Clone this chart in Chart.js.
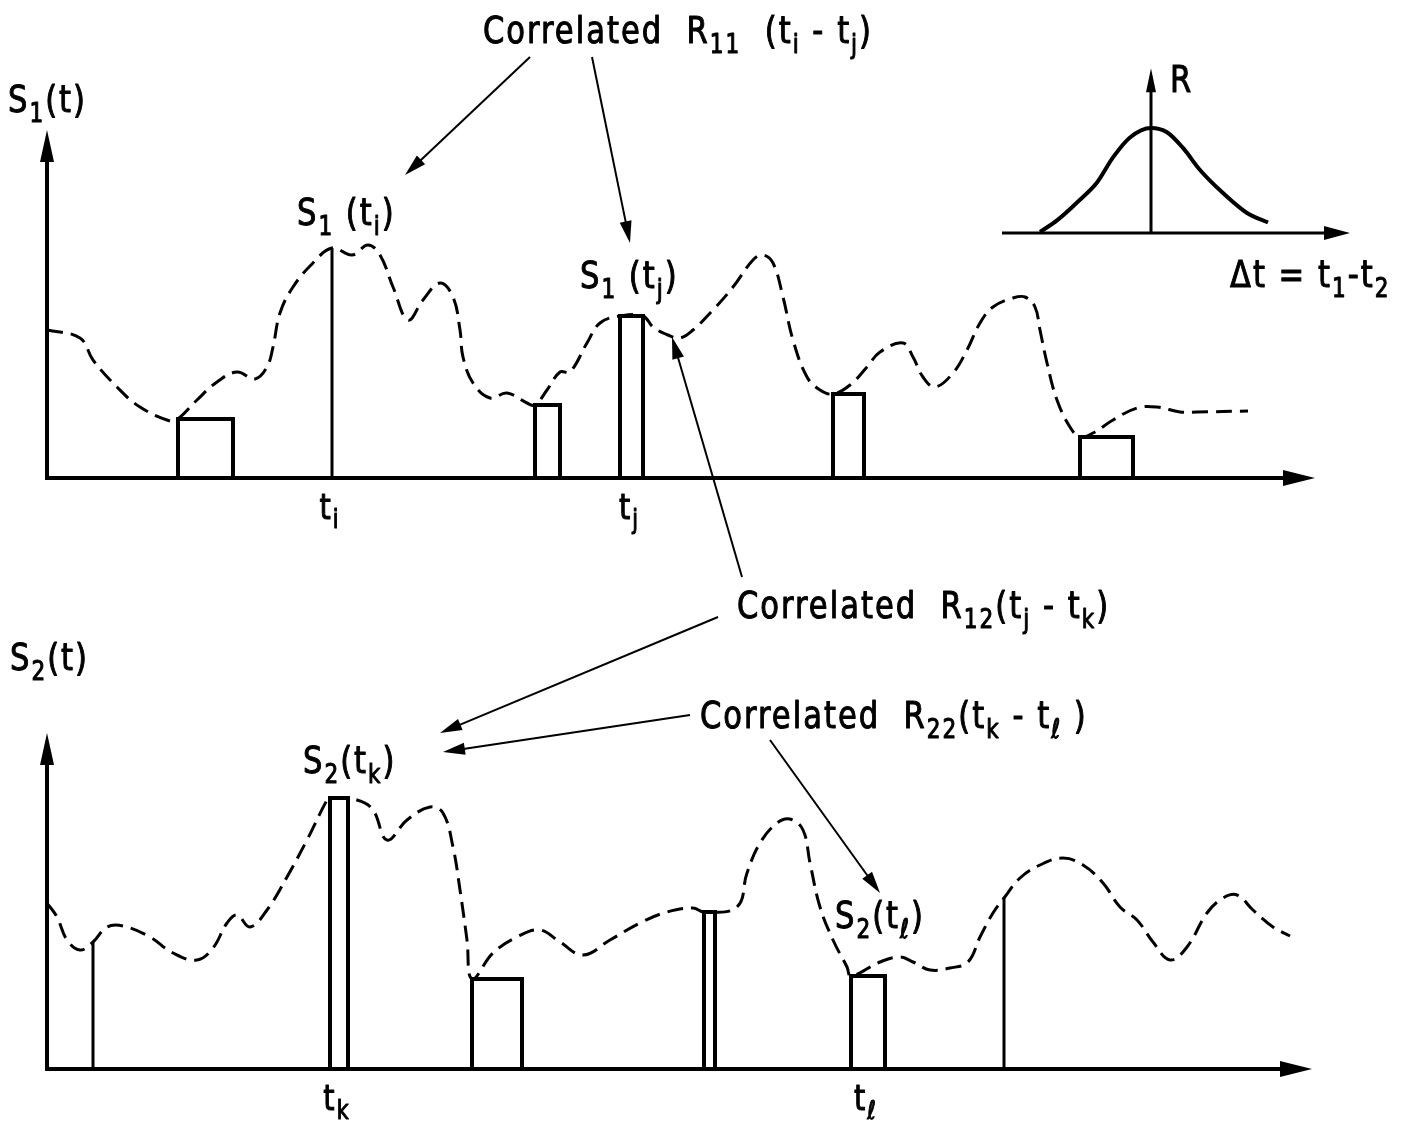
<!DOCTYPE html>
<html>
<head>
<meta charset="utf-8">
<script src="https://cdn.jsdelivr.net/npm/chart.js@4.4.1/dist/chart.umd.min.js"></script>
<style>
  html, body { margin: 0; padding: 0; background: #fff; }
  #sketch { display: block; }
</style>
</head>
<body>
<canvas id="sketch" width="1412" height="1122"></canvas>
<script>
// S1(t) trace (time units, amplitude units)
const s1Time = [0, 3.3, 4.6, 7.0, 9.3, 12.3, 13.1, 15.0, 17.0, 19.0, 20.8, 22.0, 22.6, 23.3, 24.6, 26.6, 28.5,
  30.5, 32.1, 33.3, 34.6, 36.1, 37.6, 39.3, 40.6, 41.3, 41.6, 42.6, 44.3, 46.0, 48.0, 48.8, 50.0, 51.3, 52.3,
  54.0, 55.3, 57.3, 59.6, 60.6, 62.1, 63.3, 64.6, 66.6, 68.6, 70.6, 71.6, 72.6, 73.6, 74.6, 76.0, 77.3, 78.6,
  80.3, 82.0, 83.3, 85.6, 86.6, 87.6, 88.8, 90.6, 92.0, 93.3, 94.6, 96.6, 97.8, 98.8, 99.3, 100.0, 101.0,
  102.3, 103.3, 104.6, 106.6, 109.0, 111.0, 113.3, 115.0, 120.1];
const s1Value = [14.8, 14.0, 11.8, 9.1, 7.1, 5.7, 5.9, 7.8, 9.6, 10.6, 9.9, 11.1, 13.1, 16.5, 19.1, 21.5, 23.0,
  22.3, 23.3, 22.3, 19.1, 15.8, 17.8, 19.5, 18.1, 14.8, 12.1, 9.5, 8.0, 8.5, 7.5, 7.3, 8.8, 10.6, 10.6,
  13.5, 15.5, 16.2, 16.2, 15.1, 14.3, 14.0, 14.8, 16.8, 19.1, 21.8, 22.3, 21.5, 18.1, 13.8, 10.1, 8.8, 8.4,
  9.3, 11.1, 12.6, 13.5, 12.1, 10.1, 9.1, 10.5, 12.8, 15.5, 17.1, 18.0, 18.1, 17.1, 14.8, 11.5, 7.8,
  5.1, 4.1, 4.5, 5.8, 7.0, 7.1, 6.6, 6.6, 6.7];

// S1 sampling gates: start, end, held value
const s1SampleStart = [13.1, 28.5, 48.8, 57.3, 78.6, 103.3];
const s1SampleEnd = [18.6, 28.5, 51.3, 59.6, 81.7, 108.6];
const s1SampleValue = [5.9, 23.0, 7.3, 16.2, 8.4, 4.1];

// S2(t) trace
const s2Time = [0, 1.0, 2.0, 3.3, 4.6, 6.0, 7.6, 10.3, 12.6, 15.0, 16.6, 18.0, 19.0, 20.3, 22.0, 24.0, 26.0,
  28.0, 28.3, 31.0, 32.6, 34.0, 36.0, 38.3, 39.6, 40.6, 41.3, 42.0, 42.5, 44.6, 47.0, 49.3, 51.3, 53.6, 56.3,
  59.3, 62.0, 64.6, 65.7, 69.0, 70.0, 71.3, 73.0, 74.3, 75.6, 76.3, 77.3, 78.6, 80.0, 80.4, 83.3, 85.3, 86.6,
  88.3, 90.3, 92.1, 93.3, 94.6, 95.7, 97.3, 99.3, 101.6, 103.6, 105.6, 107.3, 109.0, 110.6, 112.3, 114.0,
  116.0, 117.6, 119.0, 120.6, 122.6, 124.3];
const s2Value = [16.6, 15.2, 12.9, 11.9, 12.7, 14.2, 14.3, 13.2, 11.6, 10.9, 12.1, 14.6, 15.4, 14.2, 15.9, 19.2, 22.9,
  26.9, 27.1, 26.9, 25.9, 22.9, 24.9, 26.2, 25.6, 22.2, 17.9, 12.9, 9.0, 11.6, 13.2, 13.9, 12.7, 11.4, 12.9,
  14.6, 15.7, 16.1, 15.7, 16.2, 19.6, 22.6, 24.6, 25.0, 23.9, 20.6, 16.2, 12.9, 10.2, 9.3, 10.7, 11.2, 10.7,
  9.9, 10.1, 10.7, 13.2, 15.6, 17.1, 19.1, 20.4, 21.1, 20.4, 18.6, 16.2, 14.9, 12.7, 10.9, 12.2,
  15.6, 17.1, 17.4, 15.9, 14.2, 13.3];

// S2 sampling gates
const s2SampleStart = [4.6, 28.3, 42.5, 65.7, 80.4, 95.7];
const s2SampleEnd = [4.6, 30.1, 47.5, 66.8, 83.8, 95.7];
const s2SampleValue = [12.7, 27.1, 9.0, 15.7, 9.3, 17.1];

// correlation function R(Δt) for the inset
const lagValues = [-2.22, -1.88, -1.48, -1.08, -0.76, -0.42, 0, 0.32, 0.64, 0.98, 1.44, 1.92, 2.34];
const corrValues = [0.01, 0.12, 0.29, 0.48, 0.72, 0.91, 1.0, 0.96, 0.81, 0.60, 0.38, 0.19, 0.10];

// time-axis labels: which gate each one sits under
const s1TickLabels = [{ gate: 1, parts: [['t', ''], ['i', 'sub']] }, { gate: 3, parts: [['t', ''], ['j', 'sub']] }];
const s2TickLabels = [{ gate: 1, parts: [['t', ''], ['k', 'sub']] }, { gate: 4, parts: [['t', ''], ['ℓ', 'sub']] }];

const FONT = '"Liberation Sans Narrow", "DejaVu Sans Condensed", "Liberation Sans", sans-serif';

function pairs(xs, ys) {
  return xs.map((x, i) => ({ x: x, y: ys[i] }));
}

function trace(xs, ys, yAxisID) {
  return {
    data: pairs(xs, ys),
    yAxisID: yAxisID,
    borderColor: '#000',
    borderWidth: 3,
    borderDash: [16, 8],
    tension: 0.4,
    pointRadius: 0
  };
}

// each gate becomes an open rectangle standing on the time axis
function gates(starts, ends, values, yAxisID) {
  return starts.map((s, i) => ({
    data: [{ x: s, y: 0 }, { x: s, y: values[i] }, { x: ends[i], y: values[i] }, { x: ends[i], y: 0 }],
    yAxisID: yAxisID,
    borderColor: '#000',
    borderWidth: s === ends[i] ? 3 : 4,
    tension: 0,
    pointRadius: 0
  }));
}

function arrowHead(ctx, x1, y1, x2, y2, len, half) {
  const a = Math.atan2(y2 - y1, x2 - x1);
  const c = Math.cos(a), s = Math.sin(a);
  ctx.beginPath();
  ctx.moveTo(x2, y2);
  ctx.lineTo(x2 - c * len - s * half, y2 - s * len + c * half);
  ctx.lineTo(x2 - c * len + s * half, y2 - s * len - c * half);
  ctx.closePath();
  ctx.fill();
}

function arrow(ctx, x1, y1, x2, y2, width, len, half) {
  const a = Math.atan2(y2 - y1, x2 - x1);
  ctx.lineWidth = width;
  ctx.beginPath();
  ctx.moveTo(x1, y1);
  ctx.lineTo(x2 - Math.cos(a) * len * 0.7, y2 - Math.sin(a) * len * 0.7);
  ctx.stroke();
  arrowHead(ctx, x1, y1, x2, y2, len, half);
}

// text with subscripts: parts = [[text, '' | 'sub'], ...]
function richWidth(ctx, parts, size) {
  let w = 0;
  parts.forEach(p => {
    ctx.font = (p[1] === 'sub' ? Math.round(size * 0.72) : size) + 'px ' + FONT;
    w += ctx.measureText(p[0]).width;
  });
  return w;
}

function richText(ctx, x, y, parts, size, align) {
  ctx.save();
  ctx.letterSpacing = '2px';
  ctx.lineWidth = 0.9;
  ctx.lineJoin = 'round';
  const w = richWidth(ctx, parts, size);
  ctx.translate(align === 'center' ? x - w / 2 : x, y);
  // lettering is drawn a little taller than the font's natural shape
  ctx.scale(1, 1.12);
  let cx = 0;
  parts.forEach(p => {
    const sub = p[1] === 'sub';
    ctx.font = (sub ? Math.round(size * 0.72) : size) + 'px ' + FONT;
    const dy = sub ? size * 0.26 : 0;
    ctx.fillText(p[0], cx, dy);
    ctx.strokeText(p[0], cx, dy);
    cx += ctx.measureText(p[0]).width;
  });
  ctx.restore();
}

const labels = [
  { x: 483, y: 43, parts: [['Correlated  R', ''], ['11', 'sub'], ['  (t', ''], ['i', 'sub'], [' - t', ''], ['j', 'sub'], [')', '']] },
  { x: 8, y: 112, parts: [['S', ''], ['1', 'sub'], ['(t)', '']] },
  { x: 297, y: 225, parts: [['S', ''], ['1', 'sub'], [' (t', ''], ['i', 'sub'], [')', '']] },
  { x: 580, y: 288, parts: [['S', ''], ['1', 'sub'], [' (t', ''], ['j', 'sub'], [')', '']] },
  { x: 1170, y: 92, parts: [['R', '']] },
  { x: 1230, y: 287, parts: [['Δt = t', ''], ['1', 'sub'], ['-t', ''], ['2', 'sub']] },
  { x: 737, y: 618, parts: [['Correlated  R', ''], ['12', 'sub'], ['(t', ''], ['j', 'sub'], [' - t', ''], ['k', 'sub'], [')', '']] },
  { x: 10, y: 670, parts: [['S', ''], ['2', 'sub'], ['(t)', '']] },
  { x: 700, y: 728, parts: [['Correlated  R', ''], ['22', 'sub'], ['(t', ''], ['k', 'sub'], [' - t', ''], ['ℓ', 'sub'], [' )', '']] },
  { x: 303, y: 773, parts: [['S', ''], ['2', 'sub'], ['(t', ''], ['k', 'sub'], [')', '']] },
  { x: 835, y: 928, parts: [['S', ''], ['2', 'sub'], ['(t', ''], ['ℓ', 'sub'], [')', '']] }
];

// callout arrows: from label to the point it names
const pointers = [
  [530, 57, 405, 175],
  [592, 57, 630, 243],
  [742, 577, 672, 337],
  [718, 617, 440, 733],
  [690, 715, 443, 752],
  [770, 740, 880, 893]
];

const sketchPlugin = {
  id: 'sketch',
  beforeDatasetsDraw(chart) {
    const ctx = chart.ctx;
    const sx = chart.scales.x, sr = chart.scales.xR;
    ctx.save();
    ctx.strokeStyle = '#000';
    ctx.fillStyle = '#000';
    ctx.lineCap = 'butt';
    // time axes with arrowheads
    [['y1', 126.8, 34.8], ['y2', 126.5, 33.6]].forEach(([id, tEnd, sTop]) => {
      const ys = chart.scales[id];
      const x0 = sx.getPixelForValue(0), y0 = ys.getPixelForValue(0);
      arrow(ctx, x0, y0, sx.getPixelForValue(tEnd), y0, 4, 32, 8);
      arrow(ctx, x0, y0 + 2, x0, ys.getPixelForValue(sTop), 4, 32, 7);
    });
    // inset axes
    const yr = chart.scales.yR;
    const ry0 = yr.getPixelForValue(0);
    arrow(ctx, sr.getPixelForValue(-2.98), ry0, sr.getPixelForValue(3.98), ry0, 3, 26, 7);
    arrow(ctx, sr.getPixelForValue(0), ry0, sr.getPixelForValue(0), yr.getPixelForValue(1.57), 3, 24, 5);
    ctx.restore();
  },
  afterDatasetsDraw(chart) {
    const ctx = chart.ctx;
    const sx = chart.scales.x;
    ctx.save();
    ctx.fillStyle = '#000';
    ctx.strokeStyle = '#000';
    ctx.textBaseline = 'alphabetic';
    labels.forEach(l => richText(ctx, l.x, l.y, l.parts, 34, 'left'));
    // tick labels under the gates
    const ticks = (list, starts, ends, yId) => {
      const base = chart.scales[yId].getPixelForValue(0);
      list.forEach(t => {
        const mid = (starts[t.gate] + ends[t.gate]) / 2;
        richText(ctx, sx.getPixelForValue(mid) - 2, base + 41, t.parts, 32, 'center');
      });
    };
    ticks(s1TickLabels, s1SampleStart, s1SampleEnd, 'y1');
    ticks(s2TickLabels, s2SampleStart, s2SampleEnd, 'y2');
    pointers.forEach(p => arrow(ctx, p[0], p[1], p[2], p[3], 2, 22, 6));
    ctx.restore();
  }
};

new Chart(document.getElementById('sketch'), {
  type: 'line',
  data: {
    datasets: [
      trace(s1Time, s1Value, 'y1'),
      ...gates(s1SampleStart, s1SampleEnd, s1SampleValue, 'y1'),
      trace(s2Time, s2Value, 'y2'),
      ...gates(s2SampleStart, s2SampleEnd, s2SampleValue, 'y2'),
      {
        data: pairs(lagValues, corrValues),
        xAxisID: 'xR',
        yAxisID: 'yR',
        borderColor: '#000',
        borderWidth: 4,
        cubicInterpolationMode: 'monotone',
        pointRadius: 0
      }
    ]
  },
  options: {
    responsive: false,
    animation: false,
    devicePixelRatio: 1,
    layout: { padding: 0 },
    plugins: { legend: { display: false }, tooltip: { enabled: false } },
    scales: {
      x: { type: 'linear', display: false, min: -4.7, max: 136.5 },
      y1: { type: 'linear', display: false, min: -64.4, max: 47.8 },
      y2: { type: 'linear', display: false, min: -5.3, max: 106.9 },
      xR: { type: 'linear', display: false, min: -23.02, max: 5.22 },
      yR: { type: 'linear', display: false, min: -8.467, max: 2.219 }
    }
  },
  plugins: [sketchPlugin]
});
</script>
</body>
</html>
